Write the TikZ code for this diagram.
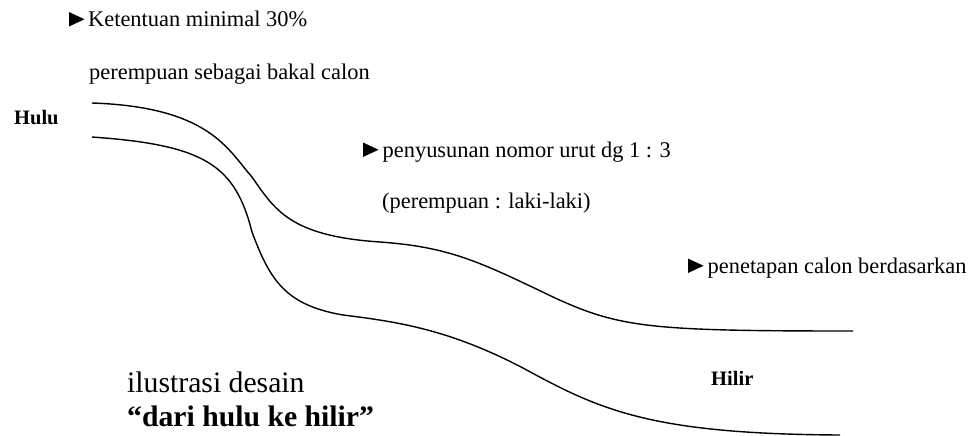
\documentclass[tikz,border=0pt]{standalone}
\usepackage{fontspec}
\setmainfont{Liberation Serif}
\begin{document}
\begin{tikzpicture}[x=1pt,y=-1pt,
  lbl/.style={anchor=base west,inner sep=0pt,font=\fontsize{22.4}{26}\selectfont},
  tag/.style={anchor=base west,inner sep=0pt,font=\fontsize{20.5}{24}\selectfont\bfseries},
  big/.style={anchor=base west,inner sep=0pt,font=\fontsize{29.7}{34}\selectfont},
  bigb/.style={big,font=\fontsize{29.7}{34}\selectfont\bfseries},
  river/.style={line width=1.4pt},
  pointer/.style={fill=black}]
\useasboundingbox (0,0) rectangle (974,436);
% bullet triangles
\fill[pointer] (69,12) -- (69,26.5) -- (84.5,19.25) -- cycle;
\fill[pointer] (363,142.5) -- (363,157) -- (378.5,149.75) -- cycle;
\fill[pointer] (688,258.5) -- (688,273) -- (703.5,265.75) -- cycle;
% texts
\node[lbl] (k1) at (88,26.5) {Ketentuan minimal 30\%};
\node[lbl] (k2) at (89,80) {perempuan sebagai bakal calon};
\node[tag] (hulu) at (14,124) {Hulu};
\node[lbl] (p1) at (382.5,157) {penyusunan nomor urut dg 1 : 3};
\node[lbl] (p2) at (382,208) {(perempuan : laki-laki)};
\node[lbl] (p3) at (707.5,273) {penetapan calon berdasarkan};
\node[tag] (hilir) at (711,385) {Hilir};
\node[big] (il) at (127,392) {ilustrasi desain};
\node[bigb] (dh) at (127,426) {“dari hulu ke hilir”};
% river banks
\draw[river] (92,103) .. controls (210,107) and (228,150) .. (252,177)
  .. controls (275,210) and (290,236) .. (380,242)
  .. controls (450,247) and (480,262) .. (553,297)
  .. controls (620,328) and (650,331) .. (853,331);
\draw[river] (92,137) .. controls (205,145) and (235,165) .. (252,232)
  .. controls (270,280) and (285,305) .. (343,315)
  .. controls (400,322) and (450,330) .. (523,368)
  .. controls (600,410) and (650,434) .. (840,435);
\end{tikzpicture}
\end{document}
